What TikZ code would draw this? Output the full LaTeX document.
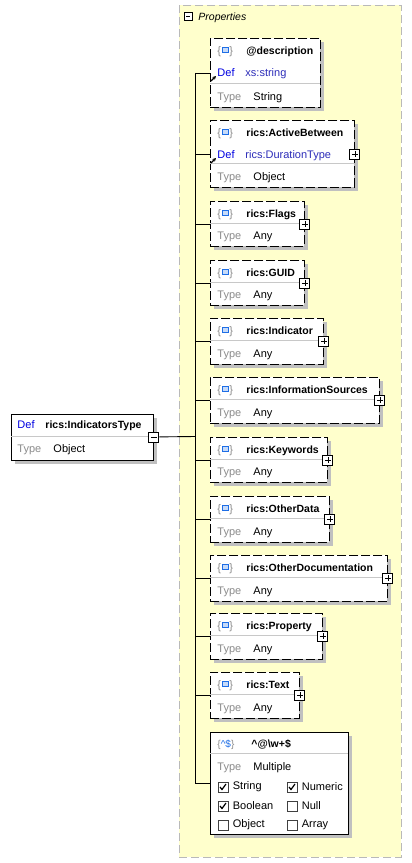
\documentclass[tikz,border=0pt]{standalone}
\usepackage{fontspec}
\setmainfont{Liberation Sans}
\usetikzlibrary{arrows.meta,shadows,positioning}

\definecolor{panelfill}{RGB}{255,255,204}
\definecolor{panelline}{RGB}{185,185,185}
\definecolor{shadowgrey}{RGB}{192,192,192}
\definecolor{rulegrey}{RGB}{200,200,200}
\definecolor{labelgrey}{RGB}{140,140,140}
\definecolor{defblue}{RGB}{0,0,225}
\definecolor{refblue}{RGB}{45,45,185}
\definecolor{iconblue}{RGB}{30,110,230}

\begin{document}
\begin{tikzpicture}[x=1pt, y=-1pt, line width=0.9pt,
    txt/.style={anchor=base west, inner sep=0pt, font=\fontsize{11}{13}\selectfont},
    ttl/.style={txt, font=\fontsize{10.5}{13}\selectfont\bfseries},
    typelbl/.style={txt, text=labelgrey},
    deflbl/.style={txt, text=defblue},
    boxshadow/.style={drop shadow={shadow xshift=4pt, shadow yshift=-4pt, fill=shadowgrey, opacity=1}},
    solidbox/.style={draw, fill=white, anchor=north west, inner sep=0pt, boxshadow},
    elembox/.style={solidbox, dash pattern=on 9pt off 3pt},
    minusbox/.style={draw, solid, fill=white, minimum size=9pt, inner sep=0pt,
        path picture={\draw[line width=0.8pt] ([xshift=2pt]path picture bounding box.west) -- ([xshift=-2pt]path picture bounding box.east);}},
    plusbox/.style={draw, solid, fill=white, minimum size=10pt, inner sep=0pt,
        path picture={\draw[line width=0.8pt] ([xshift=2pt]path picture bounding box.west) -- ([xshift=-2pt]path picture bounding box.east)
                            ([yshift=-2pt]path picture bounding box.north) -- ([yshift=2pt]path picture bounding box.south);}},
    checkbox/.style={draw=black!75, fill=white, minimum size=10pt, inner sep=0pt}
]
\useasboundingbox (0,0) rectangle (412,863);

% Properties panel
\draw[panelline, fill=panelfill, dash pattern=on 8pt off 4pt] (179,5) rectangle (401,857);
\node[minusbox, minimum size=8pt] (props-minus) at (188,16) {};
\node[txt, font=\fontsize{10.5}{13}\selectfont\itshape] (props) at (198,20) {Properties};

% Root type
\node[solidbox, minimum width=142pt, minimum height=46pt] (root) at (11,413.5) {};
\draw[rulegrey] ([yshift=1pt]root.west) -- ([yshift=1pt]root.east);
\node[deflbl] at (17,428) {Def};
\node[ttl] at (45,428) {rics:IndicatorsType};
\node[typelbl] at (17,452) {Type};
\node[txt] at (53,452) {Object};
\node[minusbox, minimum size=10pt] (root-minus) at (root.east) {};

% Trunk
\coordinate (trunk) at (195,436.5);
\draw (root-minus) -- (trunk);

% Boxes with a Def row
\foreach \nm/\ytop/\ybot/\xr/\ttltext/\deftext/\typetext in
    {desc/38/107/320/@description/xs:string/String,
     Active/120/187/354/rics:ActiveBetween/rics:DurationType/Object} {
    \pgfmathsetmacro{\boxw}{\xr-210}
    \pgfmathsetmacro{\boxh}{\ybot-\ytop}
    \node[elembox, minimum width=\boxw pt, minimum height=\boxh pt] (\nm) at (210,\ytop) {};
    \draw[rulegrey] (210,\ybot-24) -- (\xr,\ybot-24);
    % icon
    \node[txt, text=labelgrey] at ([shift={(7,16)}]\nm.north west) {\{};
    \draw[iconblue, fill=iconblue!25] ([shift={(12,9)}]\nm.north west) rectangle ([shift={(18,14)}]\nm.north west);
    \node[txt, text=labelgrey] at ([shift={(19,16)}]\nm.north west) {\}};
    \node[ttl] at ([shift={(36,16)}]\nm.north west) {\ttltext};
    \node[deflbl] (\nm-def) at ([shift={(7,38)}]\nm.north west) {Def};
    \node[txt, text=refblue] at ([shift={(35,38)}]\nm.north west) {\deftext};
    \draw[-{Stealth[length=3.5pt,width=3.5pt]}, line width=1.1pt] ([shift={(1,43)}]\nm.north west) -- ([shift={(6,38)}]\nm.north west);
    \node[typelbl] at (217,\ybot-7) {Type};
    \node[txt] at (253,\ybot-7) {\typetext};
    \draw (trunk |- \nm.west) -- (\nm.west);
}
\node[plusbox] (Active-plus) at (Active.east) {};

% Boxes of type Any
\foreach \nm/\ytop/\ybot/\xr in
    {Flags/201/246/304, GUID/260/305/304, Indicator/318/364/323,
     InformationSources/377/423/379, Keywords/437/482/327, OtherData/496/542/329,
     OtherDocumentation/555/601/387, Property/613/659/322, Text/672/718/299} {
    \pgfmathsetmacro{\boxw}{\xr-210}
    \pgfmathsetmacro{\boxh}{\ybot-\ytop}
    \node[elembox, minimum width=\boxw pt, minimum height=\boxh pt] (\nm) at (210,\ytop) {};
    \draw[rulegrey] ([yshift=1pt]\nm.west) -- ([yshift=1pt]\nm.east);
    % icon
    \node[txt, text=labelgrey] at ([shift={(7,16)}]\nm.north west) {\{};
    \draw[iconblue, fill=iconblue!25] ([shift={(12,9)}]\nm.north west) rectangle ([shift={(18,14)}]\nm.north west);
    \node[txt, text=labelgrey] at ([shift={(19,16)}]\nm.north west) {\}};
    \node[ttl] at ([shift={(36,16)}]\nm.north west) {rics:\nm};
    \node[typelbl] at (217,\ybot-7) {Type};
    \node[txt] at (253,\ybot-7) {Any};
    \node[plusbox] (\nm-plus) at (\nm.east) {};
    \draw (trunk |- \nm.west) -- (\nm.west);
}

% Pattern property
\node[solidbox, minimum width=138pt, minimum height=102pt] (pattern) at (210,732) {};
\draw[rulegrey] (210,753) -- (348,753);
\node[txt, text=labelgrey, font=\fontsize{10}{12}\selectfont] (pattern-icon) at (217,747)
    {\{\textcolor{iconblue}{\textasciicircum\$}\}};
\node[ttl] at (251,747) {\textasciicircum @\textbackslash w+\$};
\node[typelbl] at (217,770) {Type};
\node[txt] at (253,770) {Multiple};
\draw (trunk |- pattern.west) -- (pattern.west);

% Checkboxes
\foreach \lbl/\xc/\yc/\chk in {String/223/787/1, Numeric/292/787/1, Boolean/223/806/1,
                                Null/292/806/0, Object/223/825/0, Array/292/825/0} {
    \node[checkbox] (cb-\lbl) at (\xc,\yc) {};
    \node[txt, anchor=west, right=4pt of cb-\lbl] {\lbl};
    \ifnum\chk=1
        \draw[line width=1.2pt] ([shift={(-3,0)}]cb-\lbl.center) -- ([shift={(-1,2.5)}]cb-\lbl.center) -- ([shift={(3,-3)}]cb-\lbl.center);
    \fi
}

% Trunk line
\draw (trunk |- desc.west) -- (trunk |- pattern.west);
\end{tikzpicture}
\end{document}
